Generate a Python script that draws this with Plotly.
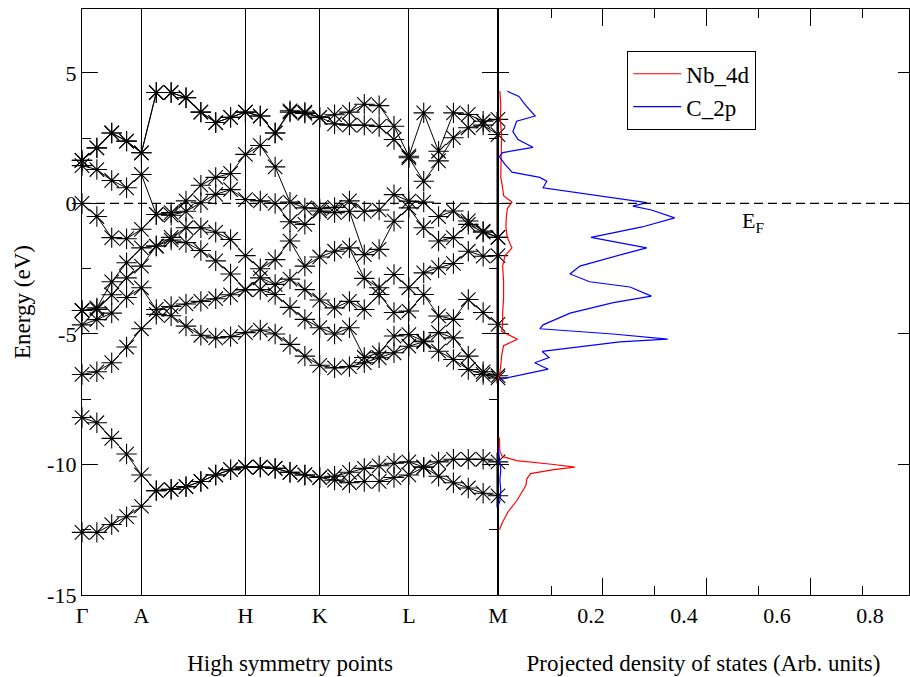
import plotly.graph_objects as go

# ---------------- data ----------------
kpoints = list(range(29))                      # k-point index along the path
sym_labels = ["Γ", "A", "H", "K", "L", "M"]
sym_pos = [0, 4, 11, 16, 22, 28]

band_1 = [-12.6, -12.6, -12.3, -12.0, -11.6, -11.0, -10.95, -10.85, -10.65, -10.4, -10.2, -10.1, -10.1, -10.15, -10.3, -10.4, -10.5, -10.6, -10.7, -10.65, -10.65, -10.5, -10.4, -10.1, -10.45, -10.7, -10.9, -11.1, -11.2]
band_2 = [-8.2, -8.4, -9.0, -9.6, -10.4, -11.0, -10.95, -10.85, -10.65, -10.4, -10.2, -10.1, -10.1, -10.15, -10.3, -10.4, -10.5, -10.45, -10.3, -10.15, -10.05, -9.95, -9.9, -10.1, -9.9, -9.8, -9.8, -9.8, -9.9]
band_3 = [-6.55, -6.45, -6.1, -5.5, -4.8, -4.25, -4.3, -4.7, -5.05, -5.15, -5.1, -4.95, -4.85, -5.0, -5.4, -5.85, -6.2, -6.3, -6.25, -6.1, -5.91, -5.72, -5.47, -5.3, -5.66, -5.98, -6.36, -6.55, -6.68]
band_4 = [-4.65, -4.45, -4.2, -3.6, -3.23, -4.06, -3.95, -3.85, -3.75, -3.65, -3.5, -3.3, -3.3, -3.49, -3.98, -4.44, -4.76, -5.0, -4.76, -5.9, -5.72, -5.08, -5.02, -5.27, -4.95, -5.15, -5.85, -6.45, -6.6]
band_5 = [-4.1, -4.06, -3.5, -2.85, -2.4, -1.63, -1.4, -1.5, -1.8, -2.2, -2.7, -3.3, -2.85, -3.1, -2.9, -3.3, -3.7, -4.0, -3.75, -4.06, -3.49, -4.18, -4.12, -3.49, -4.31, -4.44, -3.68, -4.18, -4.63]
band_6 = [-4.1, -4.0, -3.0, -2.27, -1.7, -1.63, -1.3, -0.93, -0.93, -1.1, -1.38, -2.0, -2.5, -2.15, -1.44, -2.4, -2.05, -1.83, -1.7, -2.87, -3.23, -2.72, -3.23, -2.66, -2.46, -2.3, -1.83, -2.02, -2.0]
band_7 = [0.0, -0.5, -1.31, -1.35, -0.99, -0.42, -0.45, -0.3, 0.03, 0.35, 0.53, 0.15, 0.1, 0.0, -0.7, -0.8, -0.29, -0.35, -0.3, -1.96, -1.76, -0.68, -0.17, -0.93, -1.44, -1.31, -0.8, -1.1, -1.3]
band_8 = [1.45, 1.3, 0.88, 0.6, 1.11, -0.42, -0.35, 0.1, 0.7, 1.0, 1.15, 1.88, 2.22, 1.4, 0.05, -0.17, -0.2, -0.15, 0.1, -0.3, -0.25, 0.34, 0.09, 0.05, -0.5, -0.29, -0.67, -1.06, -1.3]
band_9 = [1.65, 2.13, 2.7, 2.39, 1.94, 4.25, 4.25, 4.05, 3.5, 3.1, 3.3, 3.5, 3.35, 2.7, 3.5, 3.45, 3.3, 3.05, 3.0, 3.0, 2.95, 2.45, 1.75, 0.85, 1.63, 2.52, 2.9, 3.0, 2.64]
band_10 = [1.65, 2.13, 2.7, 2.39, 1.94, 4.25, 4.25, 4.05, 3.5, 3.1, 3.3, 3.5, 3.35, 2.7, 3.55, 3.5, 3.3, 3.4, 3.5, 3.8, 3.75, 2.96, 1.81, 3.47, 2.0, 3.47, 3.41, 3.15, 3.22]
bands = [band_1, band_2, band_3, band_4, band_5, band_6, band_7, band_8, band_9, band_10]

# projected DOS (energy in eV, DOS in arb. units); None marks a gap
nb4d_energy = [4.3, 3.8, 3.2, 2.6, 2.0, 1.5, 1.0, 0.6, 0.3, 0.05, -0.2, -0.5, -0.9, -1.3, -1.7, -2.0, -2.4, -3.0, -3.6, -4.2, -4.6, -4.9, -5.2, -5.45, -5.8, -6.2, -6.6, -6.75,
               None,
               -8.97, -9.5, -9.7, -9.85, -10.0, -10.1, -10.2, -10.35, -10.55, -10.8, -11.1, -11.4, -11.8, -12.2, -12.5]
nb4d_dos = [0.004, 0.006, 0.005, 0.008, 0.007, 0.006, 0.006, 0.01, 0.012, 0.03, 0.02, 0.018, 0.017, 0.02, 0.03, 0.015, 0.01, 0.012, 0.012, 0.01, 0.01, 0.008, 0.042, 0.012, 0.008, 0.006, 0.003, 0.0,
            None,
            0.003, 0.004, 0.01, 0.04, 0.12, 0.165, 0.12, 0.07, 0.062, 0.06, 0.05, 0.04, 0.022, 0.01, 0.003]

c2p_energy = [4.3, 4.1, 3.75, 3.35, 3.15, 2.75, 2.45, 2.15, 1.95, 1.8, 1.5, 1.2, 1.0, 0.85, 0.6, 0.45, 0.25, 0.03, -0.1, -0.25, -0.55, -0.9, -1.3, -1.7, -1.9, -2.4, -2.7, -3.0, -3.2, -3.55, -3.8, -4.2, -4.65, -4.8, -5.0, -5.2, -5.3, -5.67, -5.9, -6.1, -6.35, -6.74,
              None,
              -9.3, -9.8, -10.2, -10.6, -11.0, -11.4, -11.6]
c2p_dos = [0.02, 0.045, 0.06, 0.08, 0.04, 0.032, 0.043, 0.075, 0.01, 0.003, 0.015, 0.03, 0.09, 0.105, 0.097, 0.155, 0.24, 0.32, 0.29, 0.33, 0.38, 0.31, 0.20, 0.32, 0.277, 0.176, 0.155, 0.197, 0.284, 0.33, 0.248, 0.155, 0.097, 0.09, 0.247, 0.365, 0.262, 0.095, 0.11, 0.079, 0.108, 0.004,
           None,
           0.0, 0.004, 0.006, 0.004, 0.006, 0.004, 0.0]

dos_ticks = [0.2, 0.4, 0.6, 0.8]
dos_ticktext = ["0.2", "0.4", "0.6", "0.8"]
energy_ticks = [-15, -10, -5, 0, 5]
energy_ticktext = ["-15", "-10", "-5", "0", "5"]
fermi_energy = 0.0
m_thick_segments = [(-6.9, 3.5), (-11.65, -9.55)]

# ---------------- figure ----------------
FONT = "Times New Roman, Liberation Serif, serif"
fig = go.Figure()

for b in bands:
    fig.add_trace(go.Scatter(
        x=kpoints, y=b, mode="lines+markers", showlegend=False, cliponaxis=False,
        line=dict(color="black", width=1),
        marker=dict(symbol="asterisk-open", size=17, color="black",
                    line=dict(color="black", width=1.1)),
        xaxis="x", yaxis="y", hoverinfo="skip"))

fig.add_trace(go.Scatter(x=nb4d_dos, y=nb4d_energy, mode="lines", name="Nb_4d",
                         line=dict(color="red", width=1.2), xaxis="x2", yaxis="y2",
                         connectgaps=False))
fig.add_trace(go.Scatter(x=c2p_dos, y=c2p_energy, mode="lines", name="C_2p",
                         line=dict(color="blue", width=1.2), xaxis="x2", yaxis="y2",
                         connectgaps=False))
# carrier trace for the tick-mark axis
fig.add_trace(go.Scatter(x=[None], y=[None], xaxis="x3", yaxis="y2", showlegend=False))

x_split = 416 / 827
yr = [-15, 7.45]
xr2 = [0, 0.884]
axfont = dict(family=FONT, size=22, color="black")
titlefont = dict(family=FONT, size=23, color="black")

fig.update_layout(
    width=910, height=677,
    margin=dict(l=82, r=1, t=9, b=82, autoexpand=False),
    paper_bgcolor="white", plot_bgcolor="white",
    font=dict(family=FONT, color="black"),
    xaxis=dict(domain=[0, x_split], range=[0, 28], anchor="y", automargin=False,
               tickmode="array", tickvals=sym_pos, ticktext=sym_labels, ticks="",
               tickfont=axfont, showgrid=True, gridcolor="black", gridwidth=1.3,
               showline=True, linecolor="black", linewidth=1.3, mirror=True,
               zeroline=False,
               title=dict(text="High symmetry points", font=titlefont, standoff=28)),
    yaxis=dict(domain=[0, 1], range=yr, anchor="x", automargin=False,
               tickmode="array", tickvals=energy_ticks, ticktext=energy_ticktext,
               ticks="inside", ticklen=16, tickwidth=1.3, tickcolor="black",
               minor=dict(tickmode="array", tickvals=[-12.5, -7.5, -2.5, 2.5],
                          ticks="inside", ticklen=9, tickwidth=1.3, tickcolor="black"),
               tickfont=axfont, showgrid=False, zeroline=False,
               showline=True, linecolor="black", linewidth=1.3, mirror="ticks",
               title=dict(text="Energy (eV)", font=titlefont, standoff=10)),
    xaxis2=dict(domain=[x_split, 1], range=xr2, anchor="y2", automargin=False,
                tickmode="array", tickvals=dos_ticks, ticktext=dos_ticktext, ticks="",
                tickfont=axfont, showgrid=False, zeroline=False,
                showline=True, linecolor="black", linewidth=1.3, mirror=True,
                title=dict(text="Projected density of states (Arb. units)",
                           font=titlefont, standoff=28)),
    xaxis3=dict(overlaying="x2", anchor="y2", range=xr2, showgrid=False, zeroline=False,
                automargin=False, showline=False, showticklabels=False,
                tickmode="array", tickvals=[0.2258, 0.4495, 0.673],
                ticks="inside", ticklen=17, tickwidth=1.3, tickcolor="black", mirror="ticks",
                minor=dict(tickmode="array", tickvals=[0.114, 0.3376, 0.561, 0.785],
                           ticks="inside", ticklen=9, tickwidth=1.3, tickcolor="black")),
    yaxis2=dict(domain=[0, 1], range=yr, anchor="x2", matches="y", automargin=False,
                tickmode="array", tickvals=energy_ticks, showticklabels=False,
                ticks="inside", ticklen=11, tickwidth=1.3, tickcolor="black",
                showgrid=False, zeroline=False,
                showline=True, linecolor="black", linewidth=1.3, mirror="ticks"),
    legend=dict(x=(627 - 82) / 827, y=(595 - 51) / 586, xanchor="left", yanchor="top",
                bordercolor="black", borderwidth=1.3, bgcolor="white",
                font=dict(family=FONT, size=23, color="black"),
                itemwidth=48, tracegroupgap=0),
    showlegend=True,
)

shapes = [dict(type="line", xref="paper", yref="y", x0=0, x1=1,
               y0=fermi_energy, y1=fermi_energy,
               line=dict(color="black", width=1.3, dash="9px,5px"))]
for (lo, hi) in m_thick_segments:
    shapes.append(dict(type="line", xref="x", yref="y", x0=sym_pos[-1], x1=sym_pos[-1],
                       y0=lo, y1=hi, line=dict(color="black", width=3)))
fig.update_layout(shapes=shapes)

fig.add_annotation(x=0.548, y=-0.7, xref="x2", yref="y2", text="E<sub>F</sub>",
                   showarrow=False, font=dict(family=FONT, size=22, color="black"),
                   xanchor="center", yanchor="middle")

fig.write_html("out.html")
